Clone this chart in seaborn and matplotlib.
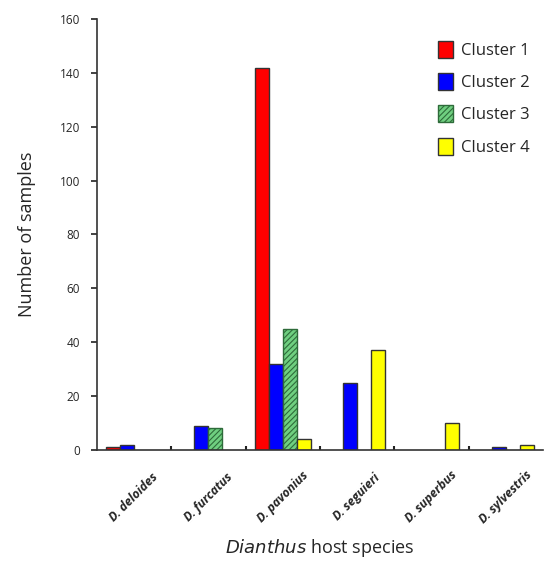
import matplotlib
matplotlib.use("Agg")
import matplotlib.pyplot as plt
import seaborn as sns
import pandas as pd
import numpy as np
from matplotlib.ticker import FixedLocator
from matplotlib.patches import Patch

species = ["D. deloides", "D. furcatus", "D. pavonius", "D. seguieri", "D. superbus", "D. sylvestris"]
clusters = ["Cluster 1", "Cluster 2", "Cluster 3", "Cluster 4"]
cluster1 = [1, 0, 142, 0, 0, 0]
cluster2 = [2, 9, 32, 25, 0, 1]
cluster3 = [0, 8, 45, 0, 0, 0]
cluster4 = [0, 0, 4, 37, 10, 2]
colors = ["#ff0000", "#0000ff", "#6fcf80", "#ffff00"]

rows = []
for c, vals in zip(clusters, [cluster1, cluster2, cluster3, cluster4]):
    for s, v in zip(species, vals):
        rows.append({"species": s, "cluster": c, "n": v if v > 0 else np.nan})
df = pd.DataFrame(rows)

sns.set_style("ticks")
plt.rcParams['font.family'] = ['Open Sans', 'DejaVu Sans']
plt.rcParams['hatch.linewidth'] = 0.8

fig = plt.figure(figsize=(5.44, 5.61), dpi=100)
ax = fig.add_axes([0.178, 0.198, 0.82, 0.768])

sns.barplot(data=df, x="species", y="n", hue="cluster", hue_order=clusters,
            palette=colors, saturation=1, width=0.75, edgecolor="#333333", linewidth=1.0,
            ax=ax, legend=False)

for i, cont in enumerate(ax.containers):
    for p in cont.patches:
        if i == 2:
            p.set_hatch("//////")
            p.set_edgecolor("#2e6b3a")

ax.set_xlim(-0.5, len(species) - 0.5)
ax.set_ylim(0, 160)
ax.set_yticks(range(0, 161, 20))
ax.tick_params(axis='y', labelsize=8.5, length=4, width=1.2, direction='out', color='#222222', pad=8)
ax.tick_params(axis='x', which='major', length=0, labelsize=8.8, pad=34)
ax.xaxis.set_minor_locator(FixedLocator(np.arange(0.5, len(species) - 0.5, 1)))
ax.tick_params(axis='x', which='minor', length=3, width=1.5, direction='in', color='#222222')
for lbl in ax.get_xticklabels():
    lbl.set_rotation(45)
    lbl.set_ha('center')
    lbl.set_va('center')
    lbl.set_fontstyle('italic')
    lbl.set_fontweight('bold')

for sp in ['top', 'right']:
    ax.spines[sp].set_visible(False)
for sp in ['left', 'bottom']:
    ax.spines[sp].set_linewidth(1.2)
    ax.spines[sp].set_color('#333333')

ax.set_ylabel("Number of samples", fontsize=13, labelpad=17)
ax.set_xlabel(r"$\it{Dianthus}$ host species", fontsize=13, va='center')
ax.xaxis.set_label_coords(0.5, -0.228)

handles = []
for i, c in enumerate(clusters):
    h = Patch(facecolor=colors[i], edgecolor="#2e6b3a" if i == 2 else "#333333",
              hatch="//////" if i == 2 else None, label=c, linewidth=1.0)
    handles.append(h)
ax.legend(handles=handles, loc='upper right', bbox_to_anchor=(1.005, 0.985), frameon=False,
          fontsize=12, handlelength=0.9, handleheight=1.2, handletextpad=0.5, labelspacing=0.85)

fig.savefig("out.png", dpi=100)
